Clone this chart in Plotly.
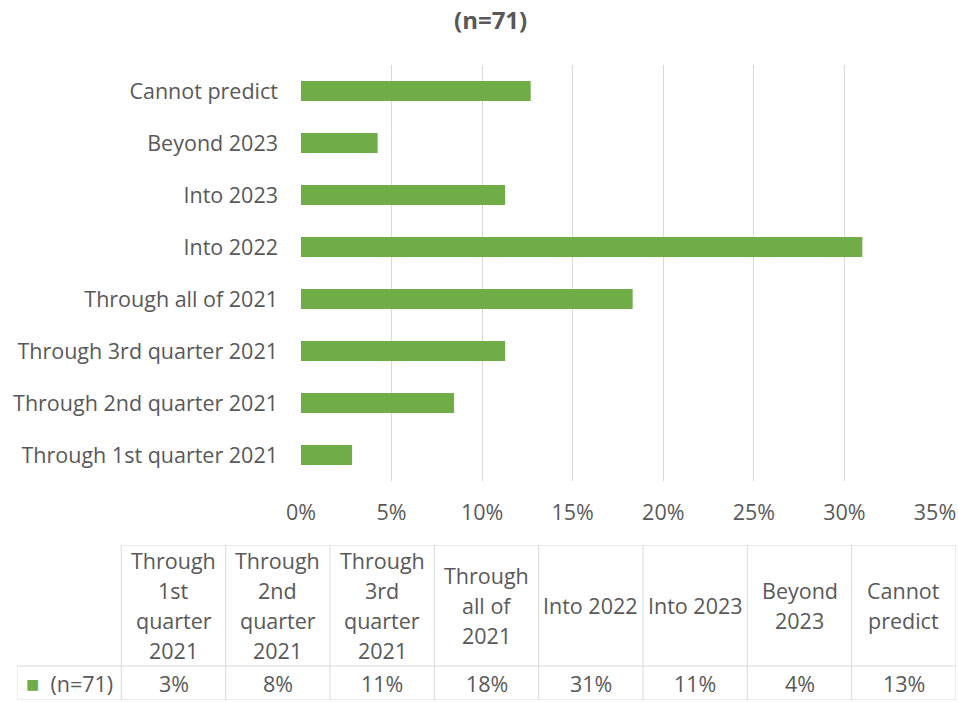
import plotly.graph_objects as go

# survey answers, bottom to top as drawn in the bar chart
CATEGORIES = [
    "Through 1st quarter 2021",
    "Through 2nd quarter 2021",
    "Through 3rd quarter 2021",
    "Through all of 2021",
    "Into 2022",
    "Into 2023",
    "Beyond 2023",
    "Cannot predict",
]
SHARE_PCT = [2.82, 8.45, 11.27, 18.31, 30.99, 11.27, 4.23, 12.68]
SERIES_NAME = "(n=71)"

# data table under the chart
TABLE_HEADERS = [
    "Through<br>1st<br>quarter<br>2021",
    "Through<br>2nd<br>quarter<br>2021",
    "Through<br>3rd<br>quarter<br>2021",
    "Through<br>all of<br>2021",
    "Into 2022",
    "Into 2023",
    "Beyond<br>2023",
    "Cannot<br>predict",
]
TABLE_VALUES = ["3%", "8%", "11%", "18%", "31%", "11%", "4%", "13%"]

X_TICKS = [0, 5, 10, 15, 20, 25, 30, 35]

GREEN = "#70AD47"
TEXT = "#595959"
GRID = "#D9D9D9"
FONT = "Open Sans"
FS = 21.5

W, H = 958, 702


def px_x(p):
    return p / W


def px_y(p):
    return 1 - p / H


fig = go.Figure()

fig.add_trace(
    go.Bar(
        x=SHARE_PCT,
        y=CATEGORIES,
        orientation="h",
        marker={"color": GREEN, "line": {"width": 0}},
        name=SERIES_NAME,
        showlegend=False,
        hovertemplate="%{y}: %{x:.0f}%<extra></extra>",
    )
)

# --- table on its own hidden axes: x = column index, y = pixels downward
HEADER_H, ROW_H = 121, 34
TOTAL_H = HEADER_H + ROW_H
LINE_H = 30
n_cols = len(TABLE_HEADERS)

shapes = []
line = {"color": GRID, "width": 1}
# header top border (top-left cell has none)
shapes.append(dict(type="line", xref="x2", yref="y2", x0=0.5, x1=n_cols + 0.5, y0=0, y1=0, line=line))
for yy in (HEADER_H, TOTAL_H):
    shapes.append(dict(type="line", xref="x2", yref="y2", x0=-0.5, x1=n_cols + 0.5, y0=yy, y1=yy, line=line))
shapes.append(dict(type="line", xref="x2", yref="y2", x0=-0.5, x1=-0.5, y0=HEADER_H, y1=TOTAL_H, line=line))
for i in range(n_cols + 1):
    shapes.append(dict(type="line", xref="x2", yref="y2", x0=i + 0.5, x1=i + 0.5, y0=0, y1=TOTAL_H, line=line))

annotations = [
    dict(
        text="<b>(n=71)</b>",
        x=px_x(490), y=px_y(20), xref="paper", yref="paper",
        xanchor="center", yanchor="middle", showarrow=False,
        font={"size": 24, "color": TEXT, "family": FONT},
    )
]
for i, (head, val) in enumerate(zip(TABLE_HEADERS, TABLE_VALUES), start=1):
    parts = head.split("<br>")
    for k, part in enumerate(parts):
        annotations.append(dict(
            text=part, x=i, y=HEADER_H / 2 + (k - (len(parts) - 1) / 2) * LINE_H,
            xref="x2", yref="y2",
            xanchor="center", yanchor="middle", showarrow=False,
            font={"size": FS, "color": TEXT, "family": FONT},
        ))
    annotations.append(dict(
        text=val, x=i, y=HEADER_H + ROW_H / 2, xref="x2", yref="y2",
        xanchor="center", yanchor="middle", showarrow=False,
        font={"size": FS, "color": TEXT, "family": FONT},
    ))
annotations.append(dict(
    text=f"<span style='color:{GREEN};font-size:22px'>■</span>  {SERIES_NAME}",
    x=0, y=HEADER_H + ROW_H / 2, xref="x2", yref="y2",
    xanchor="center", yanchor="middle", showarrow=False,
    font={"size": FS, "color": TEXT, "family": FONT},
))

fig.update_layout(
    width=W,
    height=H,
    margin={"l": 0, "r": 0, "t": 0, "b": 0, "autoexpand": False},
    paper_bgcolor="white",
    plot_bgcolor="white",
    font={"family": FONT, "color": TEXT, "size": FS},
    bargap=0.62,
    xaxis={
        "domain": [px_x(301), px_x(935)],
        "range": [0, 35],
        "tickvals": X_TICKS,
        "ticktext": [f"{t}%" for t in X_TICKS],
        "showgrid": True,
        "gridcolor": GRID,
        "gridwidth": 1,
        "zeroline": False,
        "showline": False,
        "ticks": "",
        "ticklabelstandoff": 16,
        "automargin": False,
        "fixedrange": True,
    },
    yaxis={
        "domain": [px_y(481), px_y(65)],
        "categoryorder": "array",
        "categoryarray": CATEGORIES,
        "showgrid": False,
        "zeroline": False,
        "showline": False,
        "ticks": "",
        "ticklabelstandoff": 22,
        "automargin": False,
        "fixedrange": True,
    },
    xaxis2={
        "domain": [px_x(17), px_x(956)],
        "range": [-0.5, n_cols + 0.5],
        "visible": False,
        "anchor": "y2",
        "automargin": False,
        "fixedrange": True,
    },
    yaxis2={
        "domain": [px_y(700), px_y(545)],
        "range": [TOTAL_H, 0],
        "visible": False,
        "anchor": "x2",
        "automargin": False,
        "fixedrange": True,
    },
    shapes=shapes,
    annotations=annotations,
)

# drop the browser's default 8px body margin so the figure fills the window
fig.write_html(
    "out.html",
    config={"displayModeBar": False},
    post_script="document.body.style.margin = '0';",
)
